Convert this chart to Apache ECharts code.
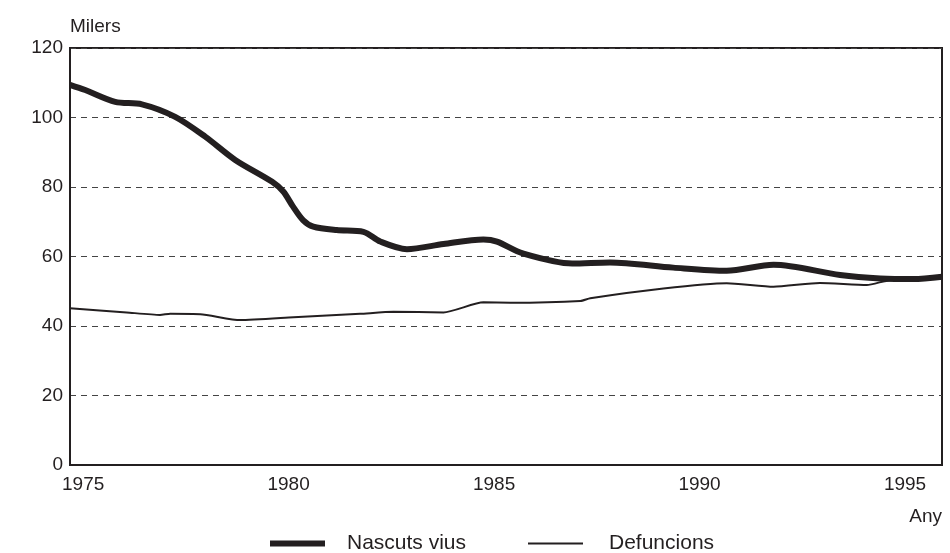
<!DOCTYPE html>
<html>
<head>
<meta charset="utf-8">
<title>Nascuts vius i defuncions</title>
<script src="https://cdn.jsdelivr.net/npm/echarts@6/dist/echarts.min.js"></script>
<style>
  html, body { margin: 0; padding: 0; background: #fff; }
  #main { width: 950px; height: 553px; }
</style>
</head>
<body>
<div id="main"></div>
<script>
// valors llegits del gràfic (milers)
var birthYears = [1974.68, 1975.05, 1975.78, 1976.43, 1977.24, 1977.97, 1978.7, 1979.6, 1979.87, 1980.1, 1980.35, 1980.6, 1981.17, 1981.82, 1982.23, 1982.88, 1983.77, 1984.74, 1985.07, 1985.7, 1986.9, 1987.82, 1989.36, 1990.66, 1991.8, 1993.42, 1994.4, 1995.2, 1995.9];
var births = [109.4, 107.9, 104.5, 103.8, 100.2, 94.5, 87.8, 81.5, 78.7, 74.5, 70.5, 68.6, 67.6, 67.1, 64.3, 62.1, 63.6, 64.9, 64.3, 60.9, 58.0, 58.3, 56.8, 55.9, 57.6, 54.7, 53.7, 53.5, 54.2];

var deathYears = [1974.68, 1976.06, 1976.87, 1977.12, 1977.85, 1978.82, 1980.12, 1981.74, 1982.55, 1983.77, 1984.74, 1985.4, 1987.1, 1987.34, 1989.12, 1990.66, 1991.8, 1992.93, 1994.07, 1994.63, 1995.9];
var deaths = [45.1, 43.9, 43.2, 43.5, 43.4, 41.7, 42.5, 43.5, 44.1, 43.9, 46.8, 46.7, 47.2, 48.0, 50.8, 52.3, 51.3, 52.4, 51.8, 53.2, 53.5];

var yearTicks = [1975, 1980, 1985, 1990, 1995];

function pairs(xs, ys) {
  return xs.map(function (x, i) { return [x, ys[i]]; });
}

var ink = '#231f20';
var font = 'Liberation Sans, Arial, sans-serif';

var option = {
  animation: false,
  textStyle: { fontFamily: font },
  grid: {
    left: 70, right: 8, top: 48, bottom: 88,
    show: true, borderColor: ink, borderWidth: 2
  },
  legend: [
    {
      left: 270, top: 533, padding: 0,
      itemWidth: 55, itemHeight: 6,
      data: [{ name: 'Nascuts vius', icon: 'rect' }],
      itemStyle: { color: ink },
      textStyle: { fontSize: 21, color: ink, padding: [0, 0, 0, 17] }
    },
    {
      left: 528, top: 533, padding: 0,
      itemWidth: 55, itemHeight: 2,
      data: [{ name: 'Defuncions', icon: 'rect' }],
      itemStyle: { color: ink },
      textStyle: { fontSize: 21, color: ink, padding: [0, 0, 0, 21] }
    }
  ],
  xAxis: {
    type: 'value',
    min: 1974.68,
    max: 1995.9,
    name: 'Any',
    nameLocation: 'end',
    nameGap: 0,
    nameTextStyle: { fontSize: 19, color: ink, align: 'right', verticalAlign: 'top', padding: [42, 0, 0, 0] },
    axisLine: { show: true, lineStyle: { color: ink, width: 2 } },
    axisTick: { show: false },
    splitLine: { show: false },
    axisLabel: {
      customValues: yearTicks,
      fontSize: 19, color: ink, margin: 10,
      formatter: function (v) { return String(Math.round(v)); }
    }
  },
  yAxis: {
    type: 'value',
    min: 0, max: 120, interval: 20,
    name: 'Milers',
    nameLocation: 'end',
    nameGap: 12,
    nameTextStyle: { fontSize: 19, color: ink, align: 'left' },
    axisLine: { show: true, lineStyle: { color: ink, width: 2 } },
    axisTick: { show: false },
    axisLabel: { fontSize: 19, color: ink, margin: 7 },
    splitLine: { show: true, lineStyle: { color: '#444', width: 1, type: [6, 5] } }
  },
  series: [
    {
      name: 'Nascuts vius',
      type: 'line',
      data: pairs(birthYears, births),
      smooth: 0.3,
      symbol: 'none',
      lineStyle: { color: ink, width: 6 },
      itemStyle: { color: ink }
    },
    {
      name: 'Defuncions',
      type: 'line',
      data: pairs(deathYears, deaths),
      smooth: 0.2,
      symbol: 'none',
      lineStyle: { color: ink, width: 2 },
      itemStyle: { color: ink }
    }
  ]
};

echarts.init(document.getElementById('main')).setOption(option);
</script>
</body>
</html>
